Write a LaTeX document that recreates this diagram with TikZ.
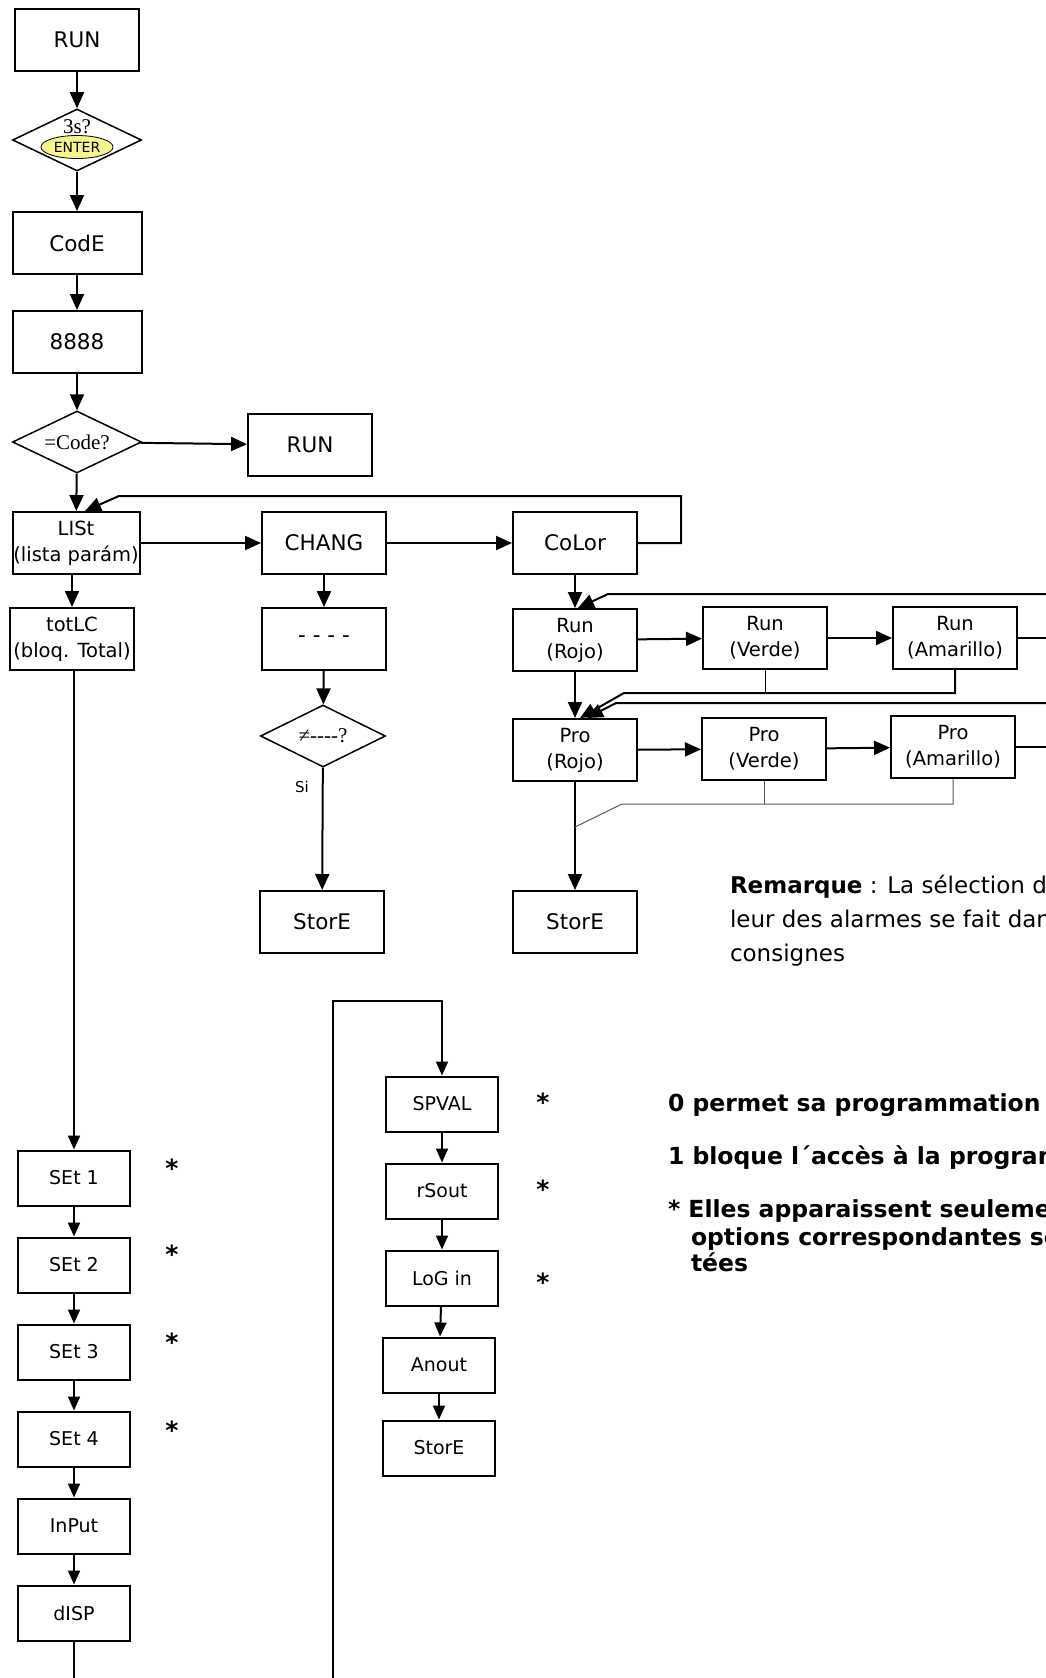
\documentclass[tikz,border=0pt]{standalone}
\usepackage{fontspec}
\setmainfont{DejaVu Sans}
\newfontfamily\diagserif{Liberation Serif}
\usetikzlibrary{shapes,shapes.geometric,arrows,arrows.meta,calc,positioning}
\definecolor{enteryellow}{RGB}{245,245,140}
\tikzset{blk/.style={draw, line width=2pt, inner sep=0pt, minimum width=124pt, minimum height=62pt, font=\fontsize{21.5}{24}\selectfont}}
\tikzset{blk2/.style={blk, align=center, font=\fontsize{19.5}{26}\selectfont}}
\tikzset{sblk/.style={draw, line width=2pt, inner sep=0pt, minimum width=112pt, minimum height=55pt, font=\fontsize{19}{22}\selectfont}}
\tikzset{ask/.style={draw, diamond, aspect=2, line width=1.5pt, inner sep=0pt, minimum width=129pt, minimum height=62pt, font=\diagserif\fontsize{21}{24}\selectfont}}
\tikzset{star/.style={inner sep=0pt, font=\bfseries\fontsize{25}{28}\selectfont}}
\tikzset{note/.style={anchor=base west, inner sep=0pt, font=\fontsize{23}{33}\selectfont}}
\tikzset{bnote/.style={anchor=base west, inner sep=0pt, font=\bfseries\fontsize{23.5}{27}\selectfont}}
\tikzset{link/.style={line width=1pt}, faint/.style={line width=1pt, black!65}}
\tikzset{big/.style={-{Triangle[length=16pt,width=14pt]}}}

\begin{document}
\begin{tikzpicture}[x=1pt, y=-1pt, >={Triangle[length=14pt,width=12pt]}, line width=2pt, node distance=87pt]
\useasboundingbox (0,0) rectangle (1046,1678);
\clip (0,0) rectangle (1046,1678);
% entry
\node[blk] (run) at (77,40) {RUN};
\node[ask] (hold) at (77,140) {};
\node[inner sep=0pt, font=\diagserif\fontsize{21}{24}\selectfont] (hold3s) at (77,127) {3s?};
\node[draw, ellipse, fill=enteryellow, line width=0.8pt, minimum width=72pt, minimum height=23pt, inner sep=0pt, font=\fontsize{14}{16}\selectfont] (enter) at (77,147) {ENTER};
\node[blk, minimum width=129pt] (code) at (77,243) {CodE};
\node[blk, minimum width=129pt] (eights) at (77,342) {8888};
\node[ask] (same) at (77,442) {=Code?};
\node[blk] (runb) at (310,445) {RUN};
\node[blk2, minimum width=127pt] (list) at (76,543) {LISt\\(lista parám)};
\node[blk2] (totlc) at (72,639) {totLC\\(bloq. Total)};
% change branch
\node[blk] (chang) at (324,543) {CHANG};
\node[blk] (dash) at (324,639) {- - - -};
\node[ask, minimum width=125pt] (diff) at (323,736) {≠----?};
\node[inner sep=0pt, font=\fontsize{15}{17}\selectfont] (si) at (302,787) {Si};
\node[blk] (storea) at (322,922) {StorE};
% colour branch
\node[blk] (color) at (575,543) {CoLor};
\node[blk2] (runr) at (575,640) {Run\\(Rojo)};
\node[blk2] (runv) at (765,638) {Run\\(Verde)};
\node[blk2] (runa) at (955,638) {Run\\(Amarillo)};
\node[blk2] (pror) at (575,750) {Pro\\(Rojo)};
\node[blk2] (prov) at (764,749) {Pro\\(Verde)};
\node[blk2] (proa) at (953,747) {Pro\\(Amarillo)};
\node[blk] (storeb) at (575,922) {StorE};
\coordinate (edgea) at (1046,594);
\coordinate (bendt) at (608,594);
\coordinate (bendb) at (624,693);
\coordinate (edgeb) at (1046,703);
\coordinate (bendc) at (616,703);
\coordinate (bendd) at (622,804);
\coordinate (joinp) at (575,827);
\coordinate (backtop) at (119,496);
% set-up columns
\node[sblk] (set1) at (74,1178) {SEt 1};
\node[sblk][below of =set1] (set2) {SEt 2};
\node[sblk][below of =set2] (set3) {SEt 3};
\node[sblk][below of =set3] (set4) {SEt 4};
\node[sblk][below of =set4] (input) {InPut};
\node[sblk][below of =input] (disp) {dISP};
\coordinate (bottoml) at (74,1678);
\node[sblk] (spval) at (442,1104) {SPVAL};
\node[sblk][below of =spval] (rsout) {rSout};
\node[sblk][below of =rsout] (login) {LoG in};
\node[sblk][below of =login, xshift=-3pt] (anout) {Anout};
\node[sblk][below of =anout, yshift=4pt] (storec) {StorE};
\coordinate (bottomm) at (333,1678);
\coordinate (looptop) at (333,1001);
\node[star] (st1) at (172,1168) {*};
\node[star] (st2) at (172,1254) {*};
\node[star] (st3) at (172,1342) {*};
\node[star] (st4) at (172,1430) {*};
\node[star] (st5) at (543,1102) {*};
\node[star] (st6) at (543,1189) {*};
\node[star] (st7) at (543,1282) {*};
% notes
\node[note] (rem1) at (729,893) {\textbf{Remarque} : La sélection de};
\node[note] (rem2) at (729,927) {leur des alarmes se fait dans};
\node[note] (rem3) at (729,961) {consignes};
\node[bnote] (zero) at (667,1111) {0 permet sa programmation};
\node[bnote] (one) at (667,1164) {1 bloque l´accès à la programmation};
\node[bnote] (only) at (667,1217) {* Elles apparaissent seulement};
\node[bnote] (onlyb) at (690,1245) {options correspondantes sont};
\node[bnote] (onlyc) at (690,1271) {tées};

\path[big] (run) edge (hold)
  (hold) edge (code)
  (code) edge (eights)
  (eights) edge (same)
  (same) edge (runb)
  (same) edge (list)
  (list) edge (chang)
  (chang) edge (color)
  (chang) edge (dash)
  (dash) edge (diff)
  (diff) edge (storea)
  (color) edge (runr)
  (runr) edge (runv)
  (runv) edge (runa)
  (runr) edge (pror)
  (pror) edge (prov)
  (prov) edge (proa)
  (pror) edge (storeb);
\draw[big] (list.south -| totlc) -- (totlc);
\draw[big] (color.east) -- ++(43,0) |- (backtop) -- ([xshift=9pt]list.north);
\draw (runa.east) -- (runa.east -| edgea);
\draw (proa.east) -- (proa.east -| edgea);
\draw[big] (edgea) -- (bendt) -- ([xshift=3pt]runr.north);
\draw[big] (runa.south) |- (bendb) -- ([xshift=5pt]pror.north);
\draw[link] (runv.south) -- (runv.south |- bendb);
\draw[big] (edgeb) -- (bendc) -- ([xshift=12pt]pror.north);
\draw[faint] (prov.south) -- (prov.south |- bendd);
\draw[faint] (proa.south) |- (bendd) -- (joinp);
% lower columns
\draw[->] (totlc.south -| set1) -- (set1);
\path[->] (set1) edge (set2)
  (set2) edge (set3)
  (set3) edge (set4)
  (set4) edge (input)
  (input) edge (disp);
\draw (disp) -- (bottoml);
\draw[->] (bottomm) -- (looptop) -| (spval);
\path[->] (spval) edge (rsout)
  (rsout) edge (login)
  (login) edge (anout)
  (anout) edge (storec);
\end{tikzpicture}
\end{document}
